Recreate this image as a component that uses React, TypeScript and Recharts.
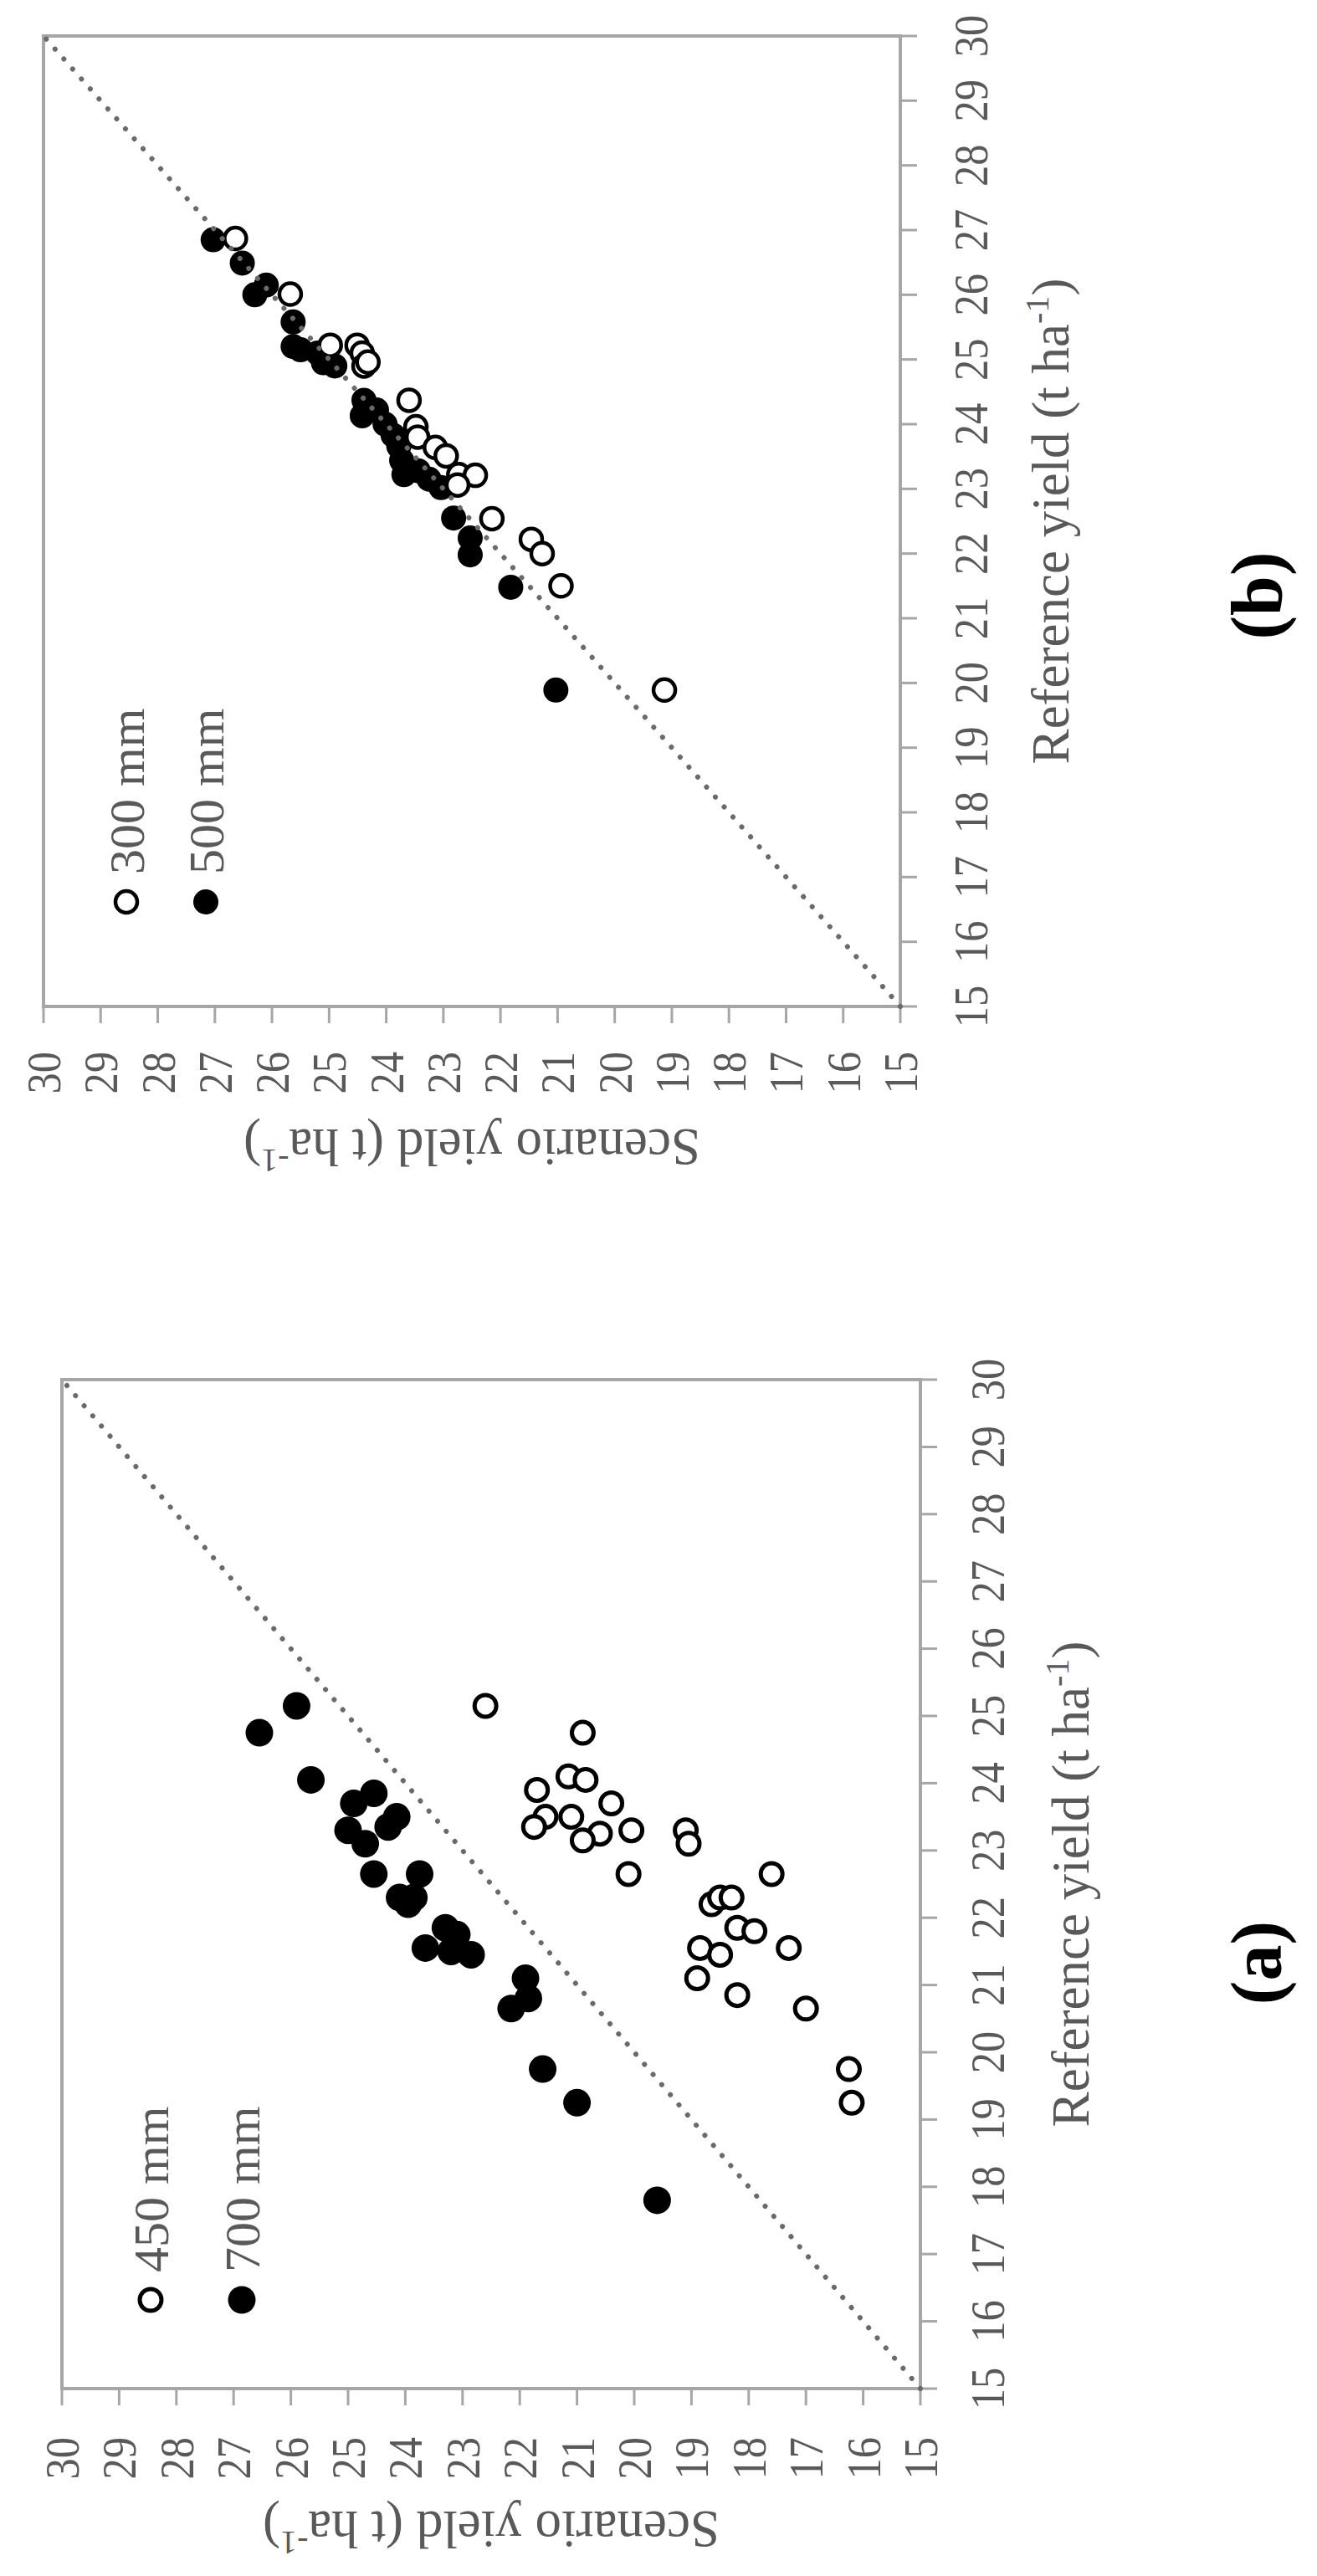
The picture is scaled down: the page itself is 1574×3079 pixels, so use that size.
import React from 'react'
import {
  ScatterChart,
  Scatter,
  XAxis,
  YAxis,
  ReferenceLine,
  ReferenceArea,
  Legend,
} from 'recharts'

const TICKS = [15, 16, 17, 18, 19, 20, 21, 22, 23, 24, 25, 26, 27, 28, 29, 30]

// panel (a): reference yield (x) vs scenario yield (y), t/ha
const ref450 = [25.15, 24.75, 24.1, 24.05, 23.9, 23.7, 23.5, 23.5, 23.35, 23.25, 23.15, 23.3, 23.3, 23.1, 22.65, 22.65, 22.2, 22.3, 22.3, 21.85, 21.8, 21.55, 21.45, 21.55, 21.1, 20.85, 20.65, 19.75, 19.25]
const scen450 = [22.6, 20.9, 21.15, 20.85, 21.7, 20.4, 21.55, 21.1, 21.75, 20.6, 20.9, 20.05, 19.1, 19.05, 20.1, 17.6, 18.65, 18.5, 18.3, 18.2, 17.9, 18.85, 18.5, 17.3, 18.9, 18.2, 17.0, 16.25, 16.2]
const ref700 = [25.15, 24.75, 24.05, 23.7, 23.85, 23.3, 23.1, 23.35, 23.5, 22.65, 22.65, 22.3, 22.2, 22.3, 21.55, 21.85, 21.75, 21.5, 21.45, 21.1, 20.8, 20.65, 19.75, 19.25, 17.8]
const scen700 = [25.9, 26.55, 25.65, 24.9, 24.55, 25.0, 24.7, 24.3, 24.15, 24.55, 23.75, 24.1, 23.95, 23.85, 23.65, 23.3, 23.1, 23.2, 22.85, 21.9, 21.85, 22.15, 21.6, 21.0, 19.6]

// panel (b)
const ref300 = [26.87, 26.01, 25.22, 25.22, 25.1, 24.9, 24.96, 24.37, 23.96, 23.8, 23.64, 23.51, 23.22, 23.21, 23.06, 22.54, 22.22, 22.0, 21.5, 19.89]
const scen300 = [26.64, 25.68, 24.98, 24.51, 24.42, 24.39, 24.32, 23.6, 23.48, 23.45, 23.14, 22.95, 22.73, 22.44, 22.75, 22.15, 21.46, 21.27, 20.94, 19.13]
const ref500 = [26.85, 26.49, 26.0, 26.15, 25.58, 25.2, 25.15, 25.1, 24.95, 24.9, 24.37, 24.13, 24.22, 24.0, 23.83, 23.66, 23.44, 23.22, 23.28, 23.15, 23.02, 22.55, 22.24, 21.98, 21.48, 19.89]
const scen500 = [27.03, 26.52, 26.3, 26.1, 25.63, 25.63, 25.5, 25.2, 25.1, 24.9, 24.39, 24.42, 24.17, 24.02, 23.88, 23.78, 23.73, 23.69, 23.44, 23.25, 23.04, 22.82, 22.53, 22.53, 21.82, 21.03]

const FONT = '"Liberation Serif", "Times New Roman", serif'
const TEXT = '#595959'
const FRAME = '#a6a6a6'
const H = 1574

const pairs = (xs: number[], ys: number[]) => xs.map((x, i) => ({ x, y: ys[i] }))

interface PanelProps {
  left: number
  width: number
  plot: { left: number; top: number; width: number; height: number }
  open: { x: number; y: number }[]
  filled: { x: number; y: number }[]
  openName: string
  filledName: string
  rFilled: number
  rOpen: number
  swOpen: number
  xTickGap: number
  yTickGap: number
  legendPos: { left: number; top: number; gap: number }
}

function Sup({ children }: { children: string }) {
  return (
    <>
      <tspan dy={-24} fontSize={40}>{children}</tspan>
      <tspan dy={24}>)</tspan>
    </>
  )
}

function Panel(p: PanelProps) {
  const xAxisH = 220
  const bottom = p.plot.top + p.plot.height
  const margin = {
    top: p.plot.top,
    left: 0,
    right: p.width - p.plot.left - p.plot.width,
    bottom: H - bottom - xAxisH,
  }
  const cx = p.plot.left + p.plot.width / 2
  const cy = p.plot.top + p.plot.height / 2

  const openShape = (s: any) => (
    <circle cx={s.cx} cy={s.cy} r={p.rOpen} fill="#fff" stroke="#000" strokeWidth={p.swOpen} />
  )
  const filledShape = (s: any) => <circle cx={s.cx} cy={s.cy} r={p.rFilled} fill="#000" />

  const legend = () => (
    <svg width={420} height={240} style={{ display: 'block', overflow: 'visible' }}>
      <circle cx={30} cy={50} r={p.rOpen} fill="#fff" stroke="#000" strokeWidth={p.swOpen} />
      <text x={63} y={71} fontFamily={FONT} fontSize={60} fill={TEXT}>{p.openName}</text>
      <circle cx={30} cy={50 + p.legendPos.gap} r={p.rFilled} fill="#000" />
      <text x={63} y={71 + p.legendPos.gap} fontFamily={FONT} fontSize={60} fill={TEXT}>{p.filledName}</text>
    </svg>
  )

  return (
    <div style={{ position: 'absolute', left: p.left, top: 0 }}>
      <ScatterChart width={p.width} height={H} margin={margin}>
        <ReferenceArea x1={15} x2={30} y1={15} y2={30} fill="none" stroke={FRAME} strokeWidth={4} />
        <XAxis
          type="number"
          dataKey="x"
          domain={[15, 30]}
          ticks={TICKS}
          interval={0}
          height={xAxisH}
          tickSize={20}
          axisLine={{ stroke: FRAME, strokeWidth: 4 }}
          tickLine={{ stroke: FRAME, strokeWidth: 3 }}
          tick={(t: any) => (
            <g transform={`translate(${t.x},${bottom + p.xTickGap})`}>
              <text transform="scale(0.87,1)" textAnchor="middle" fontFamily={FONT} fontSize={58} fill={TEXT}>
                {t.payload.value}
              </text>
            </g>
          )}
          label={() => (
            <text x={cx} y={bottom + 201} textAnchor="middle" fontFamily={FONT} fontSize={63} fill={TEXT}>
              Reference yield (t ha<Sup>-1</Sup>
            </text>
          )}
        />
        <YAxis
          type="number"
          dataKey="y"
          domain={[15, 30]}
          ticks={TICKS}
          interval={0}
          width={p.plot.left}
          tickSize={20}
          axisLine={{ stroke: FRAME, strokeWidth: 4 }}
          tickLine={{ stroke: FRAME, strokeWidth: 3 }}
          tick={(t: any) => (
            <g transform={`translate(${p.plot.left - p.yTickGap},${t.y + 20})`}>
              <text transform="scale(0.87,1)" textAnchor="end" fontFamily={FONT} fontSize={58} fill={TEXT}>
                {t.payload.value}
              </text>
            </g>
          )}
          label={() => (
            <text
              transform={`translate(${p.plot.left - 147},${cy}) rotate(-90)`}
              textAnchor="middle"
              fontFamily={FONT}
              fontSize={63}
              fill={TEXT}
            >
              Scenario yield (t ha<Sup>-1</Sup>
            </text>
          )}
        />
        <Legend
          layout="vertical"
          align="center"
          verticalAlign="middle"
          content={legend}
          wrapperStyle={{ left: p.legendPos.left, top: p.legendPos.top, width: 420, height: 240 }}
        />
        <Scatter name={p.filledName} data={p.filled} shape={filledShape} isAnimationActive={false} />
        <Scatter name={p.openName} data={p.open} shape={openShape} isAnimationActive={false} />
        <ReferenceLine
          segment={[{ x: 15, y: 15 }, { x: 30, y: 30 }]}
          stroke="#6a6a6a"
          strokeWidth={6}
          strokeDasharray="0.1 15.8"
          strokeLinecap="round"
          zIndex={1000}
        />
      </ScatterChart>
    </div>
  )
}

export default function App() {
  return (
    <div style={{ position: 'fixed', left: 0, top: 0, width: 1574, height: 3079, overflow: 'hidden', background: '#fff' }}>
      <div
        style={{
          position: 'absolute',
          left: 0,
          top: 0,
          width: 3079,
          height: H,
          transformOrigin: '0 0',
          transform: 'translate(0px, 3079px) rotate(-90deg)',
        }}
      >
        <Panel
          left={0}
          width={1540}
          plot={{ left: 224, top: 74, width: 1206, height: 1026 }}
          open={pairs(ref450, scen450)}
          filled={pairs(ref700, scen700)}
          openName="450 mm"
          filledName="700 mm"
          rFilled={16.5}
          rOpen={13}
          swOpen={5}
          xTickGap={100}
          yTickGap={58}
          legendPos={{ left: 300, top: 130, gap: 109 }}
        />
        <Panel
          left={1540}
          width={1539}
          plot={{ left: 336, top: 52, width: 1160, height: 1024 }}
          open={pairs(ref300, scen300)}
          filled={pairs(ref500, scen500)}
          openName="300 mm"
          filledName="500 mm"
          rFilled={15}
          rOpen={13}
          swOpen={4.5}
          xTickGap={104}
          yTickGap={54}
          legendPos={{ left: 431, top: 101, gap: 95 }}
        />
        <svg width={3079} height={H} style={{ position: 'absolute', left: 0, top: 0, pointerEvents: 'none' }}>
          <text x={733} y={1531} textAnchor="middle" fontFamily={FONT} fontSize={86} fontWeight="bold" fill="#000">(a)</text>
          <text x={2367} y={1531} textAnchor="middle" fontFamily={FONT} fontSize={86} fontWeight="bold" fill="#000">(b)</text>
        </svg>
      </div>
    </div>
  )
}
